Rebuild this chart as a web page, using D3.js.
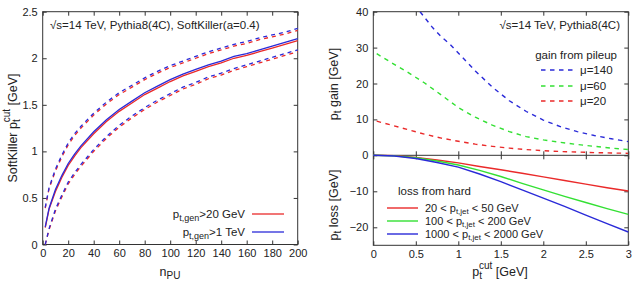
<!DOCTYPE html>
<html>
<head>
<meta charset="utf-8">
<script src="https://cdn.jsdelivr.net/npm/d3@7"></script>
<style>
  body { margin: 0; background: #fff; }
  text { font-family: "Liberation Sans", Arial, sans-serif; fill: #222; }
</style>
</head>
<body>
<svg id="chart" width="643" height="284"></svg>
<script>
// ---- left panel: SoftKiller pt cut vs n_PU ----
const nPU = [2, 5, 10, 15, 20, 25, 30, 40, 50, 60, 70, 80, 90, 100, 110, 120, 130, 140, 150, 160, 170, 180, 190, 200];
const cut1TeV   = [0.19, 0.39, 0.59, 0.74, 0.87, 0.97, 1.06, 1.21, 1.34, 1.45, 1.54, 1.63, 1.70, 1.77, 1.83, 1.88, 1.93, 1.97, 2.02, 2.05, 2.09, 2.13, 2.17, 2.21];
const cut20GeV  = [0.18, 0.38, 0.57, 0.72, 0.85, 0.95, 1.04, 1.19, 1.32, 1.43, 1.52, 1.61, 1.68, 1.75, 1.81, 1.86, 1.91, 1.95, 2.00, 2.03, 2.07, 2.11, 2.15, 2.19];
const hi1TeV    = [0.40, 0.61, 0.81, 0.96, 1.09, 1.19, 1.27, 1.41, 1.53, 1.63, 1.71, 1.79, 1.86, 1.92, 1.97, 2.02, 2.07, 2.11, 2.15, 2.18, 2.22, 2.25, 2.28, 2.32];
const hi20GeV   = [0.39, 0.60, 0.79, 0.94, 1.07, 1.17, 1.25, 1.39, 1.51, 1.61, 1.69, 1.77, 1.84, 1.90, 1.95, 2.00, 2.05, 2.09, 2.13, 2.16, 2.20, 2.23, 2.26, 2.30];
const lo1TeV    = [0.00, 0.17, 0.38, 0.53, 0.67, 0.77, 0.86, 1.02, 1.16, 1.28, 1.38, 1.47, 1.55, 1.62, 1.69, 1.74, 1.80, 1.84, 1.89, 1.93, 1.97, 2.01, 2.05, 2.09];
const lo20GeV   = [0.00, 0.16, 0.36, 0.51, 0.65, 0.75, 0.84, 1.00, 1.14, 1.26, 1.36, 1.45, 1.53, 1.60, 1.67, 1.72, 1.78, 1.82, 1.87, 1.91, 1.95, 1.99, 2.03, 2.07];

// ---- right panel: gain from pileup (upper), loss from hard (lower) ----
const gainCut140 = [0.55, 0.6, 0.7, 0.8, 0.9, 1.0, 1.2, 1.4, 1.6, 1.8, 2.0, 2.2, 2.4, 2.6, 2.8, 3.0];
const gainMu140  = [40, 38.5, 35.5, 33, 31, 28.5, 23.5, 19, 15.2, 12.2, 9.8, 8, 6.6, 5.5, 4.6, 3.8];
const gainCut    = [0.04, 0.2, 0.4, 0.6, 0.8, 1.0, 1.2, 1.4, 1.6, 1.8, 2.0, 2.2, 2.4, 2.6, 2.8, 3.0];
const gainMu60   = [28.3, 26, 23.2, 20.2, 16.8, 13.3, 10.6, 8.4, 6.6, 5.2, 4.3, 3.6, 3.0, 2.5, 2.0, 1.6];
const gainMu20   = [9.5, 8.5, 7.2, 5.9, 4.8, 3.9, 3.1, 2.5, 2.0, 1.6, 1.3, 1.05, 0.9, 0.75, 0.65, 0.55];
const lossCut    = [0, 0.25, 0.5, 0.75, 1.0, 1.25, 1.5, 1.75, 2.0, 2.25, 2.5, 2.75, 3.0];
const loss20     = [0, -0.1, -0.6, -1.3, -2.1, -3.1, -4.0, -5.0, -6.0, -7.0, -8.0, -9.0, -9.9];
const loss100    = [0, -0.15, -0.7, -1.6, -2.7, -4.2, -5.9, -7.8, -9.6, -11.4, -13.1, -14.8, -16.4];
const loss1000   = [0, -0.2, -0.9, -2.0, -3.3, -5.2, -7.3, -9.6, -11.9, -14.2, -16.6, -19.0, -21.3];

const leftXTicks = [0, 20, 40, 60, 80, 100, 120, 140, 160, 180, 200];
const leftYTicks = [0, 0.5, 1, 1.5, 2, 2.5];
const rightXTicks = [0, 0.5, 1, 1.5, 2, 2.5, 3];
const gainTicks = [0, 10, 20, 30, 40];
const lossTicks = [-10, -20];

const RED = "#ea2a2a", GREEN = "#33e033", BLUE = "#2a2ad8";

const svg = d3.select("#chart");

function frameAxes(g, axis, tx, ty, labels) {
  const a = g.append("g").attr("transform", `translate(${tx},${ty})`).call(axis);
  a.select(".domain").remove();
  a.selectAll("line").attr("stroke", "#333");
  a.selectAll("text").attr("font-size", 11).attr("fill", "#222");
  if (!labels) a.selectAll("text").remove();
  return a;
}

// ================= left panel =================
const x1 = d3.scaleLinear().domain([0, 200]).range([42.7, 297.7]);
const y1 = d3.scaleLinear().domain([0, 2.5]).range([244.5, 11.7]);

const L = svg.append("g");
frameAxes(L, d3.axisBottom(x1).tickValues(leftXTicks).tickSize(-4).tickPadding(5), 0, y1(0), true);
frameAxes(L, d3.axisTop(x1).tickValues(leftXTicks).tickSize(-4), 0, y1(2.5), false);
frameAxes(L, d3.axisLeft(y1).tickValues(leftYTicks).tickSize(-4).tickPadding(5).tickFormat(d3.format("~g")), x1(0), 0, true);
frameAxes(L, d3.axisRight(y1).tickValues(leftYTicks).tickSize(-4), x1(200), 0, false);
L.append("rect").attr("x", x1(0)).attr("y", y1(2.5))
  .attr("width", x1(200) - x1(0)).attr("height", y1(0) - y1(2.5))
  .attr("fill", "none").attr("stroke", "#333");

const line1 = d3.line().x(d => x1(d[0])).y(d => y1(d[1]));
const leftSeries = [
  { v: lo20GeV, c: RED, dash: "4,4" },
  { v: lo1TeV, c: BLUE, dash: "4,4" },
  { v: hi20GeV, c: RED, dash: "4,4" },
  { v: hi1TeV, c: BLUE, dash: "4,4" },
  { v: cut20GeV, c: RED, dash: null },
  { v: cut1TeV, c: BLUE, dash: null }
];
leftSeries.forEach(s => {
  L.append("path").datum(nPU.map((n, i) => [n, s.v[i]]))
    .attr("d", line1).attr("fill", "none").attr("stroke", s.c)
    .attr("stroke-width", 1.3).attr("stroke-dasharray", s.dash);
});

L.append("text").attr("x", 50).attr("y", 29).attr("font-size", 11.5)
  .text("\u221As=14 TeV, Pythia8(4C), SoftKiller(a=0.4)");

// legend
const legL = [{ sub: "t,gen", rest: ">20 GeV", c: RED, y: 214 }, { sub: "t,gen", rest: ">1 TeV", c: BLUE, y: 232 }];
legL.forEach(d => {
  const t = L.append("text").attr("x", 245).attr("y", d.y + 4).attr("text-anchor", "end").attr("font-size", 11.5);
  t.append("tspan").text("p");
  t.append("tspan").attr("font-size", 9).attr("dy", 3).text(d.sub);
  t.append("tspan").attr("dy", -3).text(d.rest);
  L.append("line").attr("x1", 252).attr("x2", 284).attr("y1", d.y).attr("y2", d.y)
    .attr("stroke", d.c).attr("stroke-width", 1.3);
});

// axis titles
const xl = L.append("text").attr("x", 170).attr("y", 276).attr("text-anchor", "middle").attr("font-size", 12.5);
xl.append("tspan").text("n");
xl.append("tspan").attr("font-size", 10).attr("dy", 3).text("PU");

const yl = L.append("text").attr("transform", "translate(17,128) rotate(-90)").attr("text-anchor", "middle").attr("font-size", 12.5);
yl.append("tspan").text("SoftKiller p");
yl.append("tspan").attr("font-size", 10).attr("dy", 3).text("t");
yl.append("tspan").attr("font-size", 10).attr("dx", -3).attr("dy", -10).text("cut");
yl.append("tspan").attr("dy", 7).text(" [GeV]");

// ================= right panel =================
const x2 = d3.scaleLinear().domain([0, 3]).range([373.3, 628.3]);
const yG = d3.scaleLinear().domain([0, 40]).range([155.3, 11.7]);
const yS = d3.scaleLinear().domain([-25, 0]).range([245.3, 155.3]);

const R = svg.append("g");
frameAxes(R, d3.axisBottom(x2).tickValues(rightXTicks).tickSize(-4).tickPadding(5).tickFormat(d3.format("~g")), 0, yS(-25), true);
frameAxes(R, d3.axisTop(x2).tickValues(rightXTicks).tickSize(-4), 0, yG(40), false);
frameAxes(R, d3.axisTop(x2).tickValues(rightXTicks).tickSize(4), 0, yG(0), false);
frameAxes(R, d3.axisBottom(x2).tickValues(rightXTicks).tickSize(4), 0, yG(0), false);
frameAxes(R, d3.axisLeft(yG).tickValues(gainTicks).tickSize(-4).tickPadding(5), x2(0), 0, true);
frameAxes(R, d3.axisRight(yG).tickValues(gainTicks).tickSize(-4), x2(3), 0, false);
frameAxes(R, d3.axisLeft(yS).tickValues(lossTicks).tickSize(-4).tickPadding(5), x2(0), 0, true);
frameAxes(R, d3.axisRight(yS).tickValues(lossTicks).tickSize(-4), x2(3), 0, false);
R.append("rect").attr("x", x2(0)).attr("y", yG(40))
  .attr("width", x2(3) - x2(0)).attr("height", yS(-25) - yG(40))
  .attr("fill", "none").attr("stroke", "#333");
R.append("line").attr("x1", x2(0)).attr("x2", x2(3)).attr("y1", yG(0)).attr("y2", yG(0)).attr("stroke", "#333");

R.append("clipPath").attr("id", "gclip").append("rect")
  .attr("x", x2(0)).attr("y", yG(40)).attr("width", x2(3) - x2(0)).attr("height", yG(0) - yG(40));

const lineG = d3.line().x(d => x2(d[0])).y(d => yG(d[1]));
const lineS = d3.line().x(d => x2(d[0])).y(d => yS(d[1]));
const gainSeries = [
  { p: gainCut140, v: gainMu140, c: BLUE, label: "\u03bc=140", y: 70 },
  { p: gainCut, v: gainMu60, c: GREEN, label: "\u03bc=60", y: 86 },
  { p: gainCut, v: gainMu20, c: RED, label: "\u03bc=20", y: 101 }
];
gainSeries.forEach(s => {
  R.append("path").datum(s.p.map((p, i) => [p, s.v[i]]))
    .attr("clip-path", "url(#gclip)")
    .attr("d", lineG).attr("fill", "none").attr("stroke", s.c)
    .attr("stroke-width", 1.4).attr("stroke-dasharray", "4.5,4.5");
  R.append("line").attr("x1", 541).attr("x2", 574).attr("y1", s.y).attr("y2", s.y)
    .attr("stroke", s.c).attr("stroke-width", 1.4).attr("stroke-dasharray", "4.5,4.5");
  R.append("text").attr("x", 580).attr("y", s.y + 4).attr("font-size", 11.5).text(s.label);
});
R.append("text").attr("x", 620).attr("y", 29).attr("text-anchor", "end").attr("font-size", 11.5)
  .text("\u221As=14 TeV, Pythia8(4C)");
R.append("text").attr("x", 617).attr("y", 59).attr("text-anchor", "end").attr("font-size", 11.5)
  .text("gain from pileup");

const lossSeries = [
  { v: loss20, c: RED, lo: "20 < p", hi: " < 50 GeV", y: 208 },
  { v: loss100, c: GREEN, lo: "100 < p", hi: " < 200 GeV", y: 221 },
  { v: loss1000, c: BLUE, lo: "1000 < p", hi: " < 2000 GeV", y: 234 }
];
lossSeries.forEach(s => {
  R.append("path").datum(lossCut.map((p, i) => [p, s.v[i]]))
    .attr("d", lineS).attr("fill", "none").attr("stroke", s.c).attr("stroke-width", 1.4);
  R.append("line").attr("x1", 387).attr("x2", 418).attr("y1", s.y).attr("y2", s.y)
    .attr("stroke", s.c).attr("stroke-width", 1.4);
  const t = R.append("text").attr("x", 425).attr("y", s.y + 3.5).attr("font-size", 11);
  t.append("tspan").text(s.lo);
  t.append("tspan").attr("font-size", 8).attr("dy", 2).text("t,jet");
  t.append("tspan").attr("dy", -2).text(s.hi);
});
R.append("text").attr("x", 398).attr("y", 195).attr("font-size", 11.5).text("loss from hard");

// axis titles
const gl = R.append("text").attr("transform", "translate(338,84) rotate(-90)").attr("text-anchor", "middle").attr("font-size", 12.5);
gl.append("tspan").text("p");
gl.append("tspan").attr("font-size", 10).attr("dy", 3).text("t");
gl.append("tspan").attr("dy", -3).text(" gain [GeV]");
const ll = R.append("text").attr("transform", "translate(338,205) rotate(-90)").attr("text-anchor", "middle").attr("font-size", 12.5);
ll.append("tspan").text("p");
ll.append("tspan").attr("font-size", 10).attr("dy", 3).text("t");
ll.append("tspan").attr("dy", -3).text(" loss [GeV]");

const px = R.append("text").attr("x", 500).attr("y", 276).attr("text-anchor", "middle").attr("font-size", 12.5);
px.append("tspan").text("p");
px.append("tspan").attr("font-size", 10).attr("dy", 3).text("t");
px.append("tspan").attr("font-size", 10).attr("dx", -3).attr("dy", -10).text("cut");
px.append("tspan").attr("dy", 7).text(" [GeV]");
</script>
</body>
</html>
